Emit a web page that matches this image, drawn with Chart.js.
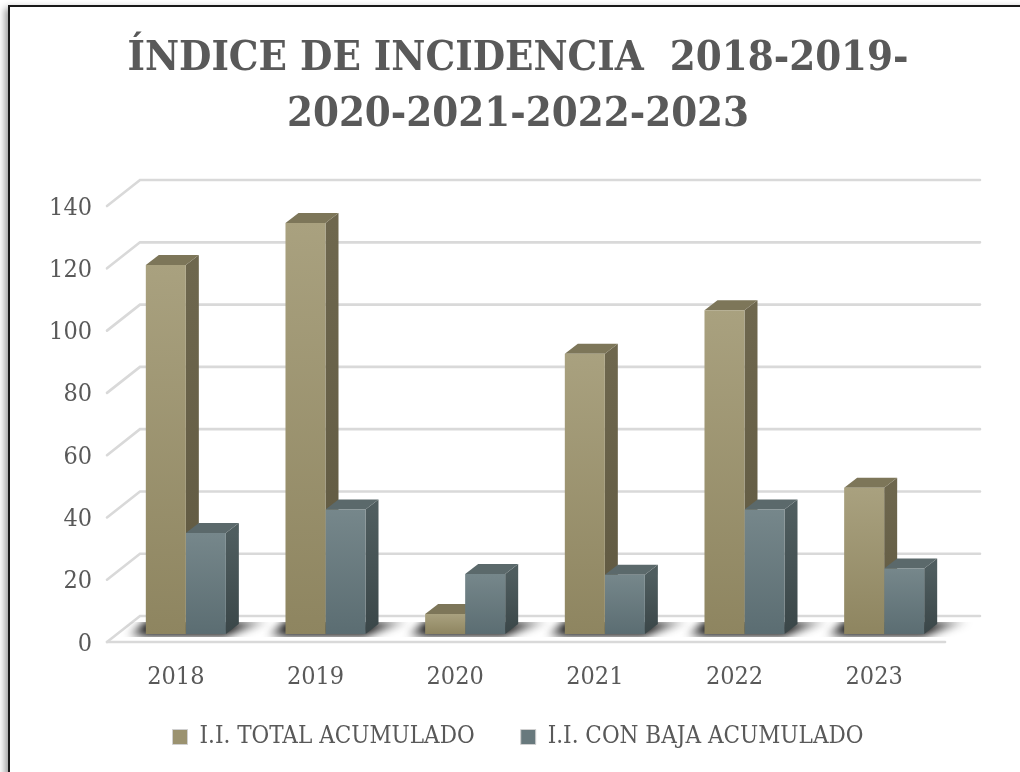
<!DOCTYPE html>
<html><head><meta charset="utf-8">
<script src="https://cdn.jsdelivr.net/npm/chart.js@4"></script>
<style>html,body{margin:0;padding:0;background:#fff;overflow:hidden}
#c{position:absolute;left:0;top:0}
#f{position:absolute;left:8px;top:5px;right:-10px;bottom:-10px;border:2px solid #1a1a1a;pointer-events:none;box-shadow:-3px 3px 7px rgba(0,0,0,.4)}
</style></head><body>
<canvas id="c" width="1020" height="772"></canvas><div id="f"></div>
<script>
const categories=['2018','2019','2020','2021','2022','2023'];
const totalValues=[118.5,132,6.4,90,104,47];
const bajaValues=[32.4,40,19.3,19,40,21];
const titleLines=['ÍNDICE DE INCIDENCIA  2018-2019-','2020-2021-2022-2023'];
const seriesNames=['I.I. TOTAL ACUMULADO','I.I. CON BAJA ACUMULADO'];
const FONT='"DejaVu Serif Condensed","DejaVu Serif"';
const DX=13,DY=10; // bar depth
const faces=[
 {front:['#a9a17f','#8e8560'],top:'#7d7659',side:['#6e674e','#5f5840'],leg:'#9b9270'},
 {front:['#76878b','#5b6d72'],top:'#5b696b',side:['#4f5d5f','#3a4648'],leg:'#68797d'}
];
function barGrad(ctx,i){
  const c=ctx.chart, y=c.scales&&c.scales.y;
  if(!y||ctx.parsed==null) return faces[i].leg;
  const g=c.ctx.createLinearGradient(0,y.getPixelForValue(ctx.parsed.y),0,y.getPixelForValue(0));
  g.addColorStop(0,faces[i].front[0]);g.addColorStop(1,faces[i].front[1]);
  return g;
}
const noClip=s=>{s._computeLabelArea=()=>null;};
const stage={id:'stage',
  beforeDatasetsDraw(c){
    const ctx=c.ctx,y=c.scales.y,a=c.chartArea;
    const L=a.left,R=a.right,y0=y.getPixelForValue(0);
    ctx.save();
    ctx.lineCap='round';
    ctx.strokeStyle='#d9d9d9';ctx.lineWidth=2.6;
    y.ticks.forEach(t=>{const p=y.getPixelForValue(t.value);
      ctx.beginPath();ctx.moveTo(L-9,p+8);ctx.lineTo(L+24,p-18);ctx.lineTo(R+26,p-18);ctx.stroke();});
    const m=c.getDatasetMeta(0).data,n=c.getDatasetMeta(1).data;
    m.forEach((b,i)=>{
      const l=b.x-b.width/2,r=n[i].x+n[i].width/2;
      ctx.save();
      ctx.beginPath();ctx.rect(l-30,y0-12,r-l+100,15);ctx.clip();
      ctx.filter='blur(4px)';
      const g=ctx.createLinearGradient(l-20,0,r+50,0);
      const k=20/(r-l+70), q=(r-l+20)/(r-l+70);
      g.addColorStop(0,'rgba(20,20,20,.15)');g.addColorStop(k,'rgba(20,20,20,1)');
      g.addColorStop(q,'rgba(20,20,20,1)');g.addColorStop(1,'rgba(20,20,20,.1)');
      ctx.fillStyle=g;
      ctx.beginPath();ctx.moveTo(l-18,y0+2);ctx.lineTo(r,y0+2);ctx.lineTo(r+44,y0-13);ctx.lineTo(l,y0-13);ctx.closePath();ctx.fill();
      ctx.restore();
    });
    ctx.beginPath();ctx.moveTo(L-9,y0+8);ctx.lineTo(R-9,y0+8);ctx.stroke();
    [0,1].forEach(d=>{
      c.getDatasetMeta(d).data.forEach(b=>{
        const l=b.x-b.width/2,r=b.x+b.width/2,t=b.y,bt=b.base,f=faces[d];
        const g=ctx.createLinearGradient(0,t,0,bt);g.addColorStop(0,f.side[0]);g.addColorStop(1,f.side[1]);
        ctx.fillStyle=g;
        ctx.beginPath();ctx.moveTo(r,t);ctx.lineTo(r+DX,t-DY);ctx.lineTo(r+DX,bt-DY);ctx.lineTo(r,bt);ctx.closePath();ctx.fill();
        ctx.fillStyle=f.top;
        ctx.beginPath();ctx.moveTo(l,t);ctx.lineTo(l+DX,t-DY);ctx.lineTo(r+DX,t-DY);ctx.lineTo(r,t);ctx.closePath();ctx.fill();
      });
    });
    ctx.restore();
  }
};
new Chart(document.getElementById('c'),{
  type:'bar',
  data:{labels:categories,datasets:[
    {label:seriesNames[0],data:totalValues,backgroundColor:c=>barGrad(c,0),barPercentage:1,categoryPercentage:0.573,borderWidth:0},
    {label:seriesNames[1],data:bajaValues,backgroundColor:c=>barGrad(c,1),barPercentage:1,categoryPercentage:0.573,borderWidth:0}
  ]},
  plugins:[stage],
  options:{
    responsive:false,animation:false,
    layout:{padding:{left:82,right:66,top:0,bottom:13}},
    plugins:{
      tooltip:{enabled:false},
      title:{display:true,text:titleLines,color:'#595959',font:{family:FONT,size:41.5,weight:'bold',lineHeight:1.35},padding:{top:31,bottom:55}},
      legend:{position:'bottom',labels:{color:'#595959',font:{family:FONT,size:24},boxWidth:15,boxHeight:15,padding:46,
        generateLabels(){return seriesNames.map((s,i)=>({text:s,fillStyle:faces[i].leg,strokeStyle:'#d0d0d0',lineWidth:1,fontColor:'#595959',datasetIndex:i}));}}}
    },
    scales:{
      x:{grid:{display:false,drawTicks:false},border:{display:false},afterFit(s){s.height=45;noClip(s);},
        ticks:{color:'#595959',font:{family:FONT,size:25},padding:28,labelOffset:-10,maxRotation:0}},
      y:{min:0,max:140,grid:{display:false,drawTicks:false},border:{display:false},afterFit(s){s.width=34;noClip(s);},
        ticks:{stepSize:20,color:'#595959',font:{family:FONT,size:25},padding:24,labelOffset:10}}
    }
  }
});
</script></body></html>
